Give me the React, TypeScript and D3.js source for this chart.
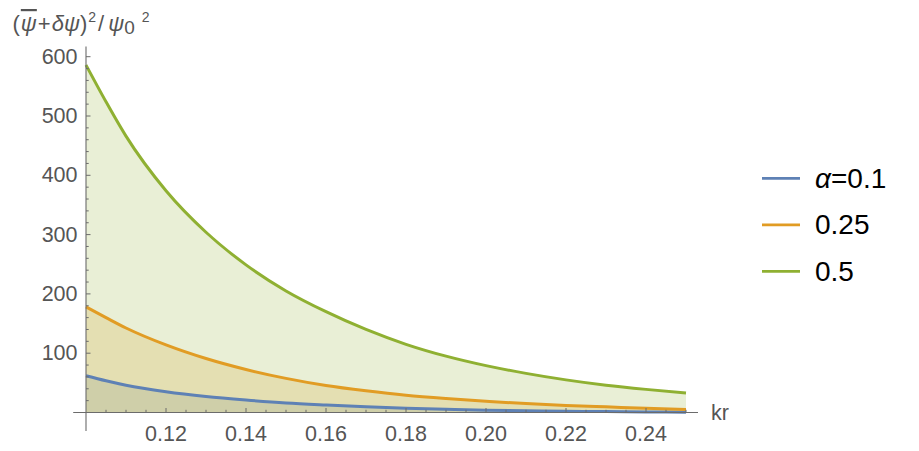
import * as d3 from "d3";

// kr values where the curves were read
const kr = [0.1, 0.105, 0.11, 0.12, 0.13, 0.14, 0.15, 0.16, 0.17, 0.18, 0.19, 0.2, 0.21, 0.22, 0.23, 0.24, 0.25];

// (psi-bar + delta psi)^2 / psi0^2
const alpha01 = [62, 53.5, 46, 35, 27, 21, 16, 12.5, 9.5, 7.3, 5.5, 4, 3, 2.2, 1.5, 1, 0.5];
const alpha025 = [178, 160, 142.5, 114, 91, 72.5, 57.5, 45.5, 36.5, 29, 23.5, 19, 15, 12, 9.5, 7, 5];
const alpha05 = [586, 524, 466, 374, 304, 249, 205, 170, 140, 115, 95, 79, 66, 55, 46, 39, 33];

const seriesNames = ["0.1", "0.25", "0.5"];
const seriesColors = ["#5e81b5", "#e19c24", "#8fb032"];

const xMajor = [0.12, 0.14, 0.16, 0.18, 0.2, 0.22, 0.24];
const yMajor = [100, 200, 300, 400, 500, 600];

const W = 919;
const H = 451;
const font = "'Liberation Sans', Arial, sans-serif";
const axisColor = "#6b6b6b";
const labelColor = "#555555";
const tickFont = 21.5;

export default function App() {
  const x = d3.scaleLinear().domain([0.1, 0.25]).range([86, 686]);
  const y = d3.scaleLinear().domain([0, 600]).range([412.5, 56.7]);

  const all = [alpha01, alpha025, alpha05];
  const series = all.map((vals, i) => ({
    name: seriesNames[i],
    color: seriesColors[i],
    pts: kr.map((k, j) => [k, vals[j]] as [number, number]),
  }));

  const line = d3
    .line<[number, number]>()
    .x((d) => x(d[0]))
    .y((d) => y(d[1]))
    .curve(d3.curveMonotoneX);
  const area = d3
    .area<[number, number]>()
    .x((d) => x(d[0]))
    .y0(y(0))
    .y1((d) => y(d[1]))
    .curve(d3.curveMonotoneX);

  const xMinor = d3.range(0.1, 0.2501, 0.005).filter(
    (v) => !xMajor.some((m) => Math.abs(m - v) < 1e-6) && v > 0.101
  );
  const yMinor = d3.range(20, 620, 20).filter((v) => v % 100 !== 0);

  const y0 = y(0);
  const xAxisX = x(0.1);

  return (
    <svg
      width={W}
      height={H}
      style={{ position: "absolute", left: 0, top: 0, background: "#fff" }}
      fontFamily={font}
    >
      {series.map((s) => (
        <path key={"a" + s.name} d={area(s.pts) || ""} fill={s.color} fillOpacity={0.2} />
      ))}
      {series.map((s) => (
        <path key={"l" + s.name} d={line(s.pts) || ""} fill="none" stroke={s.color} strokeWidth={3} />
      ))}

      {/* axes */}
      <line x1={x(0.0968)} x2={x(0.253)} y1={y0} y2={y0} stroke={axisColor} strokeWidth={1.1} />
      <line x1={xAxisX} x2={xAxisX} y1={y(-31)} y2={y(617)} stroke={axisColor} strokeWidth={1.1} />

      {xMajor.map((v) => (
        <g key={"xt" + v}>
          <line x1={x(v)} x2={x(v)} y1={y0} y2={y0 - 4.5} stroke={axisColor} />
          <text x={x(v)} y={441} textAnchor="middle" fontSize={tickFont} fill={labelColor}>
            {v.toFixed(2)}
          </text>
        </g>
      ))}
      {xMinor.map((v) => (
        <line key={"xm" + v} x1={x(v)} x2={x(v)} y1={y0} y2={y0 - 2.7} stroke={axisColor} />
      ))}
      {yMajor.map((v) => (
        <g key={"yt" + v}>
          <line x1={xAxisX} x2={xAxisX + 4.5} y1={y(v)} y2={y(v)} stroke={axisColor} />
          <text
            x={77.5}
            y={y(v)}
            textAnchor="end"
            dominantBaseline="central"
            fontSize={tickFont}
            fill={labelColor}
          >
            {v}
          </text>
        </g>
      ))}
      {yMinor.map((v) => (
        <line key={"ym" + v} x1={xAxisX} x2={xAxisX + 2.7} y1={y(v)} y2={y(v)} stroke={axisColor} />
      ))}

      <text x={711} y={420} fontSize={tickFont} fill={labelColor}>
        kr
      </text>

      <text x={12.5} y={31} fontSize={22} fill={labelColor}>
        (<tspan dx={1} fontStyle="italic" style={{ textDecoration: "overline" }}>ψ</tspan>
        <tspan dx={1}>+</tspan>
        <tspan dx={1} fontStyle="italic">δψ</tspan>
        <tspan>)</tspan>
        <tspan fontSize={14} dx={1} dy={-9}>2</tspan>
        <tspan dx={2} dy={9}>/</tspan>
        <tspan dx={4} fontStyle="italic">ψ</tspan>
        <tspan dy={3} fontSize={19}>0</tspan>
        <tspan fontSize={14} dx={7} dy={-12}>2</tspan>
      </text>

      {/* legend */}
      {series.map((s, i) => {
        const ly = 178.3 + i * 46.5;
        return (
          <g key={"lg" + s.name}>
            <line x1={762} x2={800} y1={ly} y2={ly} stroke={s.color} strokeWidth={2.8} />
            <text x={815} y={ly} dominantBaseline="central" fontSize={28} fill="#000">
              {i === 0 ? (
                <>
                  <tspan fontStyle="italic">α</tspan>=
                </>
              ) : null}
              {s.name}
            </text>
          </g>
        );
      })}
    </svg>
  );
}
